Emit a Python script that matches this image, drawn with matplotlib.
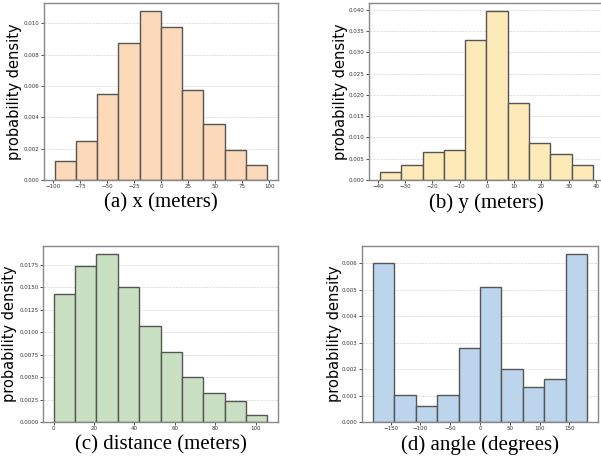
import numpy as np
import matplotlib
matplotlib.use('Agg')
import matplotlib.pyplot as plt

# bin edges and densities
x_edges = [-98.5, -78.8, -59.2, -39.5, -19.9, -0.2, 19.5, 39.1, 58.8, 78.4, 98.2]
x_dens = [0.00120, 0.00250, 0.00551, 0.00872, 0.01075, 0.00976, 0.00573, 0.00359, 0.00192, 0.00098]

y_edges = [-39.3, -31.5, -23.6, -15.8, -8.0, -0.2, 7.7, 15.5, 23.3, 31.2, 39.0]
y_dens = [0.0018, 0.0035, 0.0065, 0.0071, 0.0329, 0.0396, 0.0182, 0.0088, 0.0060, 0.0035]

d_edges = [0.0, 10.58, 21.16, 31.74, 42.32, 52.9, 63.48, 74.06, 84.64, 95.22, 105.8]
d_dens = [0.01423, 0.01739, 0.01869, 0.01501, 0.01066, 0.00777, 0.00505, 0.00323, 0.00230, 0.00074]

a_edges = [-180, -144, -108, -72, -36, 0, 36, 72, 108, 144, 180]
a_dens = [0.00600, 0.00103, 0.00059, 0.00101, 0.00281, 0.00509, 0.00199, 0.00131, 0.00161, 0.00634]

# (edges, densities, colour, caption, axes box in px [l, t, r, b], ylabel centre x in px)
panels = [
    (x_edges, x_dens, '#fcd9b8', '(a) x (meters)', [44, 3, 278, 180], 15),
    (y_edges, y_dens, '#feeab8', '(b) y (meters)', [369, 3, 604, 180], 341),
    (d_edges, d_dens, '#c9e0c2', '(c) distance (meters)', [43, 246, 278, 422], 10),
    (a_edges, a_dens, '#bcd5ed', '(d) angle (degrees)', [362, 246, 598, 422], 335),
]

W, H = 601, 461
fig = plt.figure(figsize=(W / 100, H / 100), dpi=100)

for edges, dens, col, cap, box, lx in panels:
    l, t, r, b = box
    ax = fig.add_axes([l / W, 1 - b / H, (r - l) / W, (b - t) / H])
    edges = np.array(edges)
    ax.bar(edges[:-1], dens, width=np.diff(edges), align='edge',
           color=col, edgecolor='#555555', linewidth=1.0, zorder=2)
    ax.yaxis.grid(True, linestyle='--', color='#d5d5d5', linewidth=0.5, zorder=0)
    ax.set_axisbelow(True)
    for s in ax.spines.values():
        s.set_color('#888888')
        s.set_linewidth(1.0)
    ax.tick_params(labelsize=4, colors='#333333', length=2, width=0.6, pad=1)
    ax.set_ylabel('probability density', fontsize=10.5, va='center')
    ax.yaxis.set_label_coords((lx - l) / (r - l), 0.5)
    fig.text((l + r) / 2 / W, 1 - (b + 23) / H, cap, ha='center', va='center',
             family='Liberation Serif', fontsize=15)

fig.savefig('out.png', dpi=100)
